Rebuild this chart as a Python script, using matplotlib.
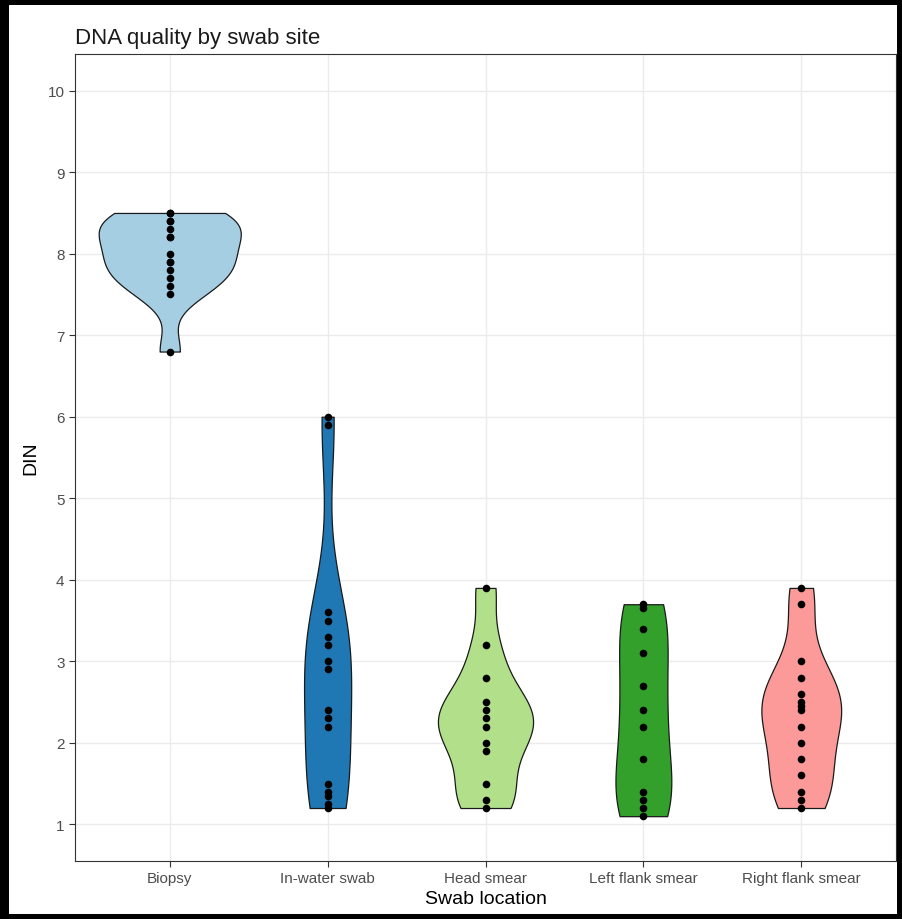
import numpy as np
import matplotlib
matplotlib.use('Agg')
import matplotlib.pyplot as plt
from matplotlib.patches import Rectangle

# swab sites and colours (Paired palette)
sites = ['Biopsy', 'In-water swab', 'Head smear', 'Left flank smear', 'Right flank smear']
colors = ['#A6CEE3', '#1F78B4', '#B2DF8A', '#33A02C', '#FB9A99']

# DIN values (overlapping dots counted twice)
biopsy = [8.5, 8.5, 8.4, 8.4, 8.3, 8.2, 8.2, 8.0, 7.9, 7.9, 7.8, 7.7, 7.6, 7.5, 6.8]
in_water = [6.0, 5.9, 3.6, 3.5, 3.3, 3.2, 3.0, 2.9, 2.4, 2.3, 2.2, 1.5, 1.4, 1.35, 1.25, 1.2]
head = [3.9, 3.2, 2.8, 2.5, 2.4, 2.3, 2.2, 2.0, 1.9, 1.5, 1.3, 1.2]
left_flank = [3.7, 3.65, 3.4, 3.1, 2.7, 2.4, 2.2, 1.8, 1.4, 1.3, 1.2, 1.1]
right_flank = [3.9, 3.7, 3.0, 2.8, 2.6, 2.5, 2.45, 2.4, 2.2, 2.0, 1.8, 1.6, 1.4, 1.3, 1.2]

y_ticks = list(range(1, 11))

plt.rcParams['font.family'] = ['Liberation Sans', 'DejaVu Sans']


def nrd0(x):
    # same bandwidth rule as R's bw.nrd0
    x = np.asarray(x, dtype=float)
    sd = x.std(ddof=1)
    q75, q25 = np.percentile(x, [75, 25])
    lo = min(sd, (q75 - q25) / 1.34)
    if lo == 0:
        lo = sd
    return 0.9 * lo * len(x) ** -0.2


def density(x, grid):
    x = np.asarray(x, dtype=float)
    bw = nrd0(x)
    z = (grid[:, None] - x[None, :]) / bw
    return np.exp(-0.5 * z ** 2).sum(axis=1) / (len(x) * bw * np.sqrt(2 * np.pi))


groups = [biopsy, in_water, head, left_flank, right_flank]

fig = plt.figure(figsize=(9.02, 9.2), dpi=100)
ax = fig.add_axes([75 / 902, 58 / 920, 821 / 902, 807 / 920])

# density curves, trimmed to the data range, scaled by area like ggplot
curves = []
for vals in groups:
    yy = np.linspace(min(vals), max(vals), 512)
    curves.append((yy, density(vals, yy)))
dmax = max(d.max() for _, d in curves)

half = 0.45
for i, (vals, (yy, d), c) in enumerate(zip(groups, curves, colors)):
    w = d / dmax * half
    ax.fill_betweenx(yy, i - w, i + w, facecolor=c, edgecolor='#1a1a1a',
                     linewidth=0.9, zorder=2)
    ax.scatter([i] * len(vals), vals, s=30, color='black', zorder=3, linewidths=0)

ax.set_xlim(-0.6, 4.6)
ax.set_ylim(0.55, 10.45)
ax.set_xticks(range(len(sites)))
ax.set_xticklabels(sites)
ax.set_yticks(y_ticks)

ax.grid(True, color='#EBEBEB', linewidth=1.0, zorder=0)
ax.set_axisbelow(True)
for s in ax.spines.values():
    s.set_color('#333333')
    s.set_linewidth(0.8)
ax.tick_params(axis='both', colors='#333333', length=4, width=0.8,
               labelsize=11, labelcolor='#4D4D4D')

ax.set_xlabel('Swab location', fontsize=14, labelpad=3)
ax.set_ylabel('DIN', fontsize=14, labelpad=6)
ax.set_title('DNA quality by swab site', fontsize=16, loc='left', pad=8, color='#1a1a1a')

# black frame around the picture
W, H = 902, 920
for x0, y0, w, h in [(0, 0, 9, H), (0, H - 6, W, 6), (0, 0, W, 5), (W - 5, 0, 5, H)]:
    fig.add_artist(Rectangle((x0 / W, y0 / H), w / W, h / H, transform=fig.transFigure,
                             facecolor='black', edgecolor='none'))

fig.savefig('out.png', dpi=100)
